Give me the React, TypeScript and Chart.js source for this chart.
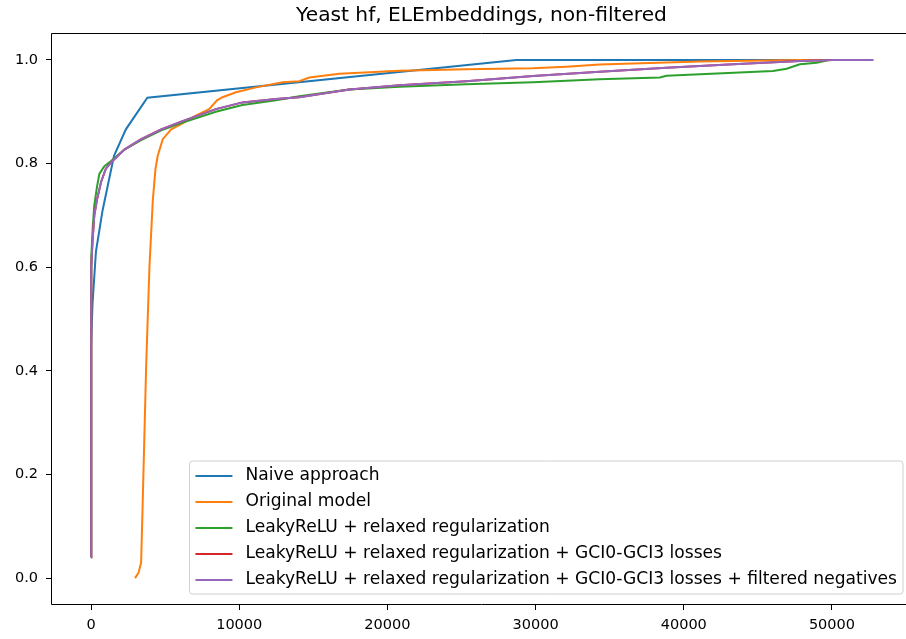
import React, { useEffect, useRef } from "react";
import { Chart, registerables } from "chart.js";

Chart.register(...registerables);

const TITLE = "Yeast hf, ELEmbeddings, non-filtered";

const SERIES_LABELS = [
  "Naive approach",
  "Original model",
  "LeakyReLU + relaxed regularization",
  "LeakyReLU + relaxed regularization + GCI0-GCI3 losses",
  "LeakyReLU + relaxed regularization + GCI0-GCI3 losses + filtered negatives",
];
const SERIES_COLORS = ["#1f77b4", "#ff7f0e", "#2ca02c", "#d62728", "#9467bd"];

const X_TICKS = [0, 10000, 20000, 30000, 40000, 50000];
const Y_TICKS = [0.0, 0.2, 0.4, 0.6, 0.8, 1.0];

// Naive approach
const naiveX = [0, 0, 100, 330, 780, 1550, 2350, 3800, 28700, 52700];
const naiveY = [0.04, 0.45, 0.53, 0.63, 0.71, 0.815, 0.866, 0.927, 1.0, 1.0];

// Original model
const origX = [2970, 3200, 3380, 3490, 3720, 3940, 4170, 4350, 4500, 4840, 5410, 6080, 7070, 7970, 8500, 8870, 9780, 11130, 12930, 14050, 14730, 16760, 20810, 25320, 29800, 32070, 34320, 41080, 47840, 52700];
const origY = [0.0, 0.01, 0.03, 0.15, 0.41, 0.6, 0.73, 0.79, 0.815, 0.847, 0.866, 0.876, 0.8925, 0.905, 0.922, 0.928, 0.9375, 0.947, 0.957, 0.959, 0.966, 0.9735, 0.979, 0.982, 0.984, 0.987, 0.991, 0.997, 1.0, 1.0];

// LeakyReLU + relaxed regularization
const leakyX = [0, 0, 30, 120, 220, 400, 560, 900, 1350, 2250, 3380, 4730, 6080, 8420, 10220, 12480, 14050, 17430, 20810, 25320, 29830, 34320, 38380, 38830, 46030, 46940, 47840, 48970, 49800];
const leakyY = [0.04, 0.55, 0.62, 0.68, 0.72, 0.755, 0.78, 0.795, 0.805, 0.827, 0.845, 0.864, 0.878, 0.9, 0.913, 0.922, 0.93, 0.943, 0.948, 0.953, 0.957, 0.9625, 0.966, 0.9695, 0.9785, 0.983, 0.9915, 0.9945, 1.0];

// LeakyReLU + relaxed regularization + GCI0-GCI3 losses
const gciX = [0, 0, 30, 100, 220, 400, 680, 1000, 1350, 2250, 3380, 4730, 6080, 8420, 10220, 12480, 14050, 17430, 20810, 25320, 29830, 34320, 38830, 43330, 47840, 50070, 52790];
const gciY = [0.04, 0.55, 0.6, 0.65, 0.7, 0.73, 0.765, 0.79, 0.802, 0.827, 0.847, 0.866, 0.881, 0.905, 0.918, 0.9245, 0.928, 0.943, 0.951, 0.959, 0.969, 0.977, 0.985, 0.9915, 0.998, 1.0, 1.0];

// LeakyReLU + relaxed regularization + GCI0-GCI3 losses + filtered negatives
const filtX = [0, 0, 30, 100, 220, 400, 680, 1000, 1350, 2250, 3380, 4730, 6080, 8420, 10220, 12480, 14050, 17430, 20810, 25320, 29830, 34320, 38830, 43330, 47840, 50070, 52790];
const filtY = [0.04, 0.55, 0.6, 0.65, 0.7, 0.73, 0.765, 0.79, 0.802, 0.827, 0.847, 0.866, 0.881, 0.905, 0.918, 0.9245, 0.928, 0.943, 0.951, 0.959, 0.969, 0.977, 0.985, 0.9915, 0.998, 1.0, 1.0];

const SERIES_X = [naiveX, origX, leakyX, gciX, filtX];
const SERIES_Y = [naiveY, origY, leakyY, gciY, filtY];

const FONT = "'DejaVu Sans', sans-serif";

const framePlugin = {
  id: "frame",
  afterDatasetsDraw(chart: any) {
    const { ctx, chartArea } = chart;
    const { left, top, right, bottom } = chartArea;
    ctx.save();
    ctx.strokeStyle = "#000";
    ctx.lineWidth = 1;
    ctx.beginPath();
    ctx.rect(Math.round(left) - 0.5, Math.round(top) - 0.5, Math.round(right - left) + 1, Math.round(bottom - top) + 1);
    ctx.stroke();
    ctx.restore();
  },
};

const titlePlugin = {
  id: "mplTitle",
  afterDraw(chart: any) {
    const { ctx, chartArea } = chart;
    ctx.save();
    ctx.fillStyle = "#000";
    ctx.font = `20.2px ${FONT}`;
    ctx.textAlign = "center";
    ctx.textBaseline = "middle";
    ctx.fillText(TITLE, (chartArea.left + chartArea.right) / 2, 16);
    ctx.restore();
  },
};

const legendPlugin = {
  id: "mplLegend",
  afterDraw(chart: any) {
    const { ctx } = chart;
    const datasets = chart.data.datasets;
    ctx.save();
    ctx.font = `17.1px ${FONT}`;
    let maxW = 0;
    datasets.forEach((d: any) => {
      maxW = Math.max(maxW, ctx.measureText(d.label).width);
    });
    const right = 903;
    const padL = 6;
    const handleLen = 37;
    const gap = 13;
    const padR = 6;
    const rowH = 26;
    const firstRow = 476;
    const boxW = padL + handleLen + gap + maxW + padR;
    const left = right - boxW;
    const top = 461;
    const bottom = firstRow + rowH * (datasets.length - 1) + 14;
    const r = 3;
    ctx.beginPath();
    ctx.moveTo(left + r, top);
    ctx.lineTo(right - r, top);
    ctx.arcTo(right, top, right, top + r, r);
    ctx.lineTo(right, bottom - r);
    ctx.arcTo(right, bottom, right - r, bottom, r);
    ctx.lineTo(left + r, bottom);
    ctx.arcTo(left, bottom, left, bottom - r, r);
    ctx.lineTo(left, top + r);
    ctx.arcTo(left, top, left + r, top, r);
    ctx.closePath();
    ctx.fillStyle = "rgba(255,255,255,0.8)";
    ctx.fill();
    ctx.strokeStyle = "#d0d0d0";
    ctx.lineWidth = 1;
    ctx.stroke();
    datasets.forEach((d: any, i: number) => {
      const y = firstRow + rowH * i;
      ctx.strokeStyle = d.borderColor;
      ctx.lineWidth = 2;
      ctx.beginPath();
      ctx.moveTo(left + padL, y);
      ctx.lineTo(left + padL + handleLen, y);
      ctx.stroke();
      ctx.fillStyle = "#000";
      ctx.textAlign = "left";
      ctx.textBaseline = "middle";
      ctx.fillText(d.label, left + padL + handleLen + gap, y);
    });
    ctx.restore();
  },
};

export default function App() {
  const canvasRef = useRef<HTMLCanvasElement | null>(null);

  useEffect(() => {
    const canvas = canvasRef.current;
    if (!canvas) return;
    const n = SERIES_LABELS.length;
    const datasets = SERIES_LABELS.map((label, i) => ({
      label,
      data: SERIES_X[i].map((x, j) => ({ x, y: SERIES_Y[i][j] })),
      borderColor: SERIES_COLORS[i],
      backgroundColor: SERIES_COLORS[i],
      borderWidth: 2,
      pointRadius: 0,
      tension: 0,
      fill: false,
      order: n - 1 - i,
    }));
    const chart = new Chart(canvas, {
      type: "line",
      data: { datasets },
      plugins: [framePlugin, titlePlugin, legendPlugin],
      options: {
        animation: false,
        responsive: false,
        devicePixelRatio: 1,
        layout: { padding: { top: 34, right: 1, left: 0, bottom: 0 } },
        plugins: {
          legend: { display: false },
          title: { display: false },
          tooltip: { enabled: false },
        },
        scales: {
          x: {
            type: "linear",
            min: -2635,
            max: 55335,
            afterFit: (scale: any) => {
              scale.height = 35;
            },
            afterBuildTicks: (scale: any) => {
              scale.ticks = X_TICKS.map((v) => ({ value: v }));
            },
            grid: {
              drawOnChartArea: false,
              drawTicks: true,
              tickLength: 6,
              tickColor: "#000",
              tickWidth: 1,
            },
            border: { display: false },
            ticks: {
              color: "#000",
              font: { family: FONT, size: 14.5 },
              padding: 7,
              maxRotation: 0,
              autoSkip: false,
              callback: (v: any) => String(Math.round(Number(v))),
            },
          },
          y: {
            type: "linear",
            min: -0.05,
            max: 1.05,
            afterFit: (scale: any) => {
              scale.width = 52;
            },
            afterBuildTicks: (scale: any) => {
              scale.ticks = Y_TICKS.map((v) => ({ value: v }));
            },
            grid: {
              drawOnChartArea: false,
              drawTicks: true,
              tickLength: 6,
              tickColor: "#000",
              tickWidth: 1,
            },
            border: { display: false },
            ticks: {
              color: "#000",
              font: { family: FONT, size: 14.5 },
              padding: 8,
              autoSkip: false,
              callback: (v: any) => Number(v).toFixed(1),
            },
          },
        },
      },
    });
    return () => chart.destroy();
  }, []);

  return (
    <div
      style={{
        position: "fixed",
        left: 0,
        top: 0,
        width: 906,
        height: 639,
        overflow: "hidden",
        background: "#fff",
      }}
    >
      <canvas ref={canvasRef} width={912} height={639} style={{ display: "block" }} />
    </div>
  );
}
